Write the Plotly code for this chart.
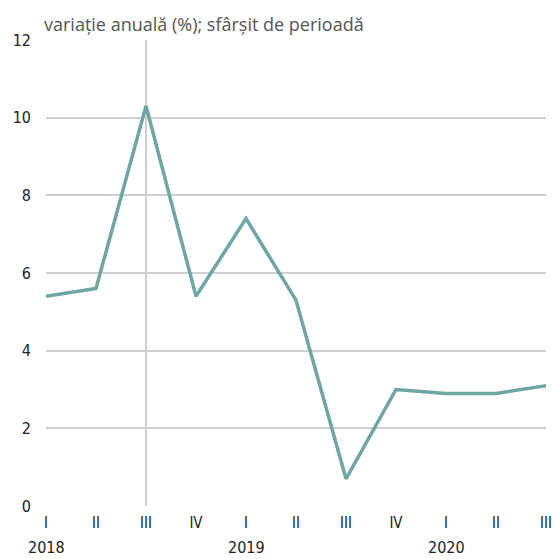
import plotly.graph_objects as go

quarters = ["I", "II", "III", "IV", "I", "II", "III", "IV", "I", "II", "III"]
years = ["2018", "2019", "2020"]
year_pos = [0, 4, 8]
values = [5.4, 5.6, 10.3, 5.4, 7.4, 5.3, 0.7, 3.0, 2.9, 2.9, 3.1]
y_ticks = [0, 2, 4, 6, 8, 10, 12]
title = "variație anuală (%); sfârșit de perioadă"

x = list(range(len(values)))
font_fam = "DejaVu Sans Condensed, Liberation Sans Narrow, Noto Sans"

fig = go.Figure()
fig.add_trace(go.Scatter(x=x, y=values, mode="lines",
                         line=dict(color="#6fa5a3", width=3.5),
                         hoverinfo="skip", cliponaxis=False))

fig.add_shape(type="line", xref="x", yref="y", x0=2, x1=2, y0=0, y1=12,
              line=dict(color="#d0d0d0", width=2), layer="below")

for yr, p in zip(years, year_pos):
    fig.add_annotation(x=p, y=0, xref="x", yref="paper", text=yr,
                       showarrow=False, yshift=-53,
                       font=dict(size=16, color="#222", family=font_fam))

fig.add_annotation(x=0, y=1, xref="paper", yref="paper", text=title,
                   showarrow=False, xanchor="left", yanchor="bottom",
                   xshift=-4, yshift=2,
                   font=dict(size=18, color="#555", family="Open Sans, Noto Sans"))

fig.update_layout(
    width=554, height=559,
    margin=dict(l=46, r=8, t=40, b=53, autoexpand=False),
    paper_bgcolor="white", plot_bgcolor="white",
    showlegend=False,
    xaxis=dict(range=[0, 10], tickvals=x, ticktext=quarters, showgrid=False,
               zeroline=False, showline=False, ticks="", ticklabelstandoff=6,
               ticklabeloverflow="allow",
               tickfont=dict(size=15, color="#222", family=font_fam),
               fixedrange=True, automargin=False),
    yaxis=dict(range=[0, 12], tickvals=y_ticks, showgrid=True,
               gridcolor="#d0d0d0", gridwidth=2, zeroline=False,
               showline=False, ticks="", ticklabelstandoff=14,
               tickfont=dict(size=16, color="#222", family=font_fam),
               fixedrange=True, automargin=False),
)

fig.write_html("out.html",
               config={"displayModeBar": False, "staticPlot": True},
               post_script="document.body.style.margin='0';document.body.style.overflow='hidden';")
